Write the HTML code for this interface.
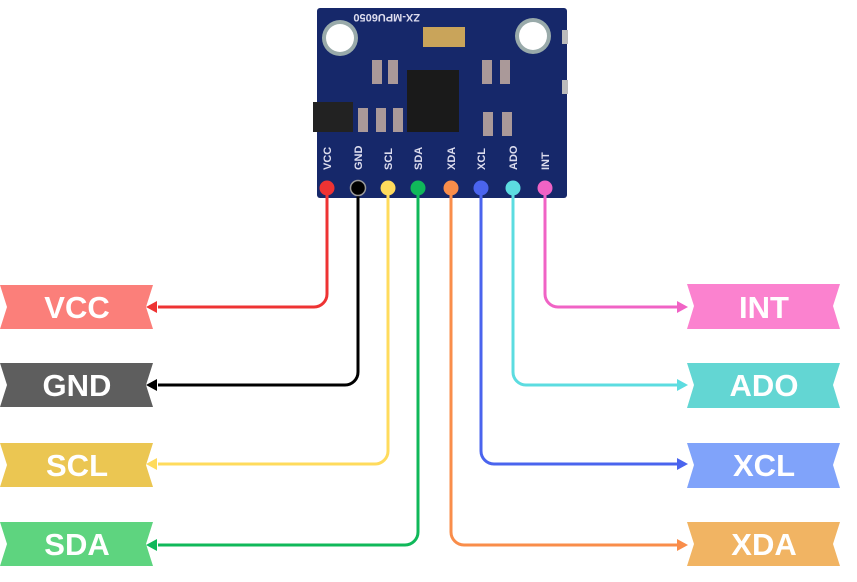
<!DOCTYPE html>
<html><head><meta charset="utf-8"><style>
html,body{margin:0;padding:0;background:#fff;width:857px;height:582px;overflow:hidden}
svg text{font-family:"Liberation Sans",sans-serif;font-weight:bold}
</style></head><body>
<svg width="857" height="582" viewBox="0 0 857 582" xmlns="http://www.w3.org/2000/svg">
<!-- board -->
<rect x="317" y="8" width="250" height="190" rx="3" fill="#16286a"/>
<rect x="562" y="30" width="6" height="14" fill="#bbb"/>
<rect x="562" y="80" width="6" height="14" fill="#bbb"/>
<circle cx="340" cy="38" r="18" fill="#9aa" /><circle cx="340" cy="38" r="14" fill="#fff"/>
<circle cx="533" cy="36" r="18" fill="#9aa" /><circle cx="533" cy="36" r="14" fill="#fff"/>
<text x="420" y="22" fill="#dde" font-size="11" font-weight="normal" transform="rotate(180 420 18)">ZX-MPU6050</text>
<rect x="423" y="27" width="42" height="20" fill="#c9a45a"/>
<rect x="407" y="70" width="52" height="62" fill="#1a1a1a"/>
<rect x="313" y="102" width="40" height="30" fill="#222"/>
<rect x="372" y="60" width="10" height="24" fill="#a99"/><rect x="388" y="60" width="10" height="24" fill="#a99"/>
<rect x="482" y="60" width="10" height="24" fill="#a99"/><rect x="500" y="60" width="10" height="24" fill="#a99"/>
<rect x="358" y="108" width="10" height="24" fill="#a99"/><rect x="376" y="108" width="10" height="24" fill="#a99"/><rect x="393" y="108" width="10" height="24" fill="#a99"/>
<rect x="483" y="112" width="10" height="24" fill="#a99"/><rect x="502" y="112" width="10" height="24" fill="#a99"/>
<g fill="#dde" font-size="11" font-weight="normal">
<text transform="translate(331,170) rotate(-90)">VCC</text>
<text transform="translate(362,170) rotate(-90)">GND</text>
<text transform="translate(392,170) rotate(-90)">SCL</text>
<text transform="translate(422,170) rotate(-90)">SDA</text>
<text transform="translate(455,170) rotate(-90)">XDA</text>
<text transform="translate(485,170) rotate(-90)">XCL</text>
<text transform="translate(517,170) rotate(-90)">ADO</text>
<text transform="translate(549,170) rotate(-90)">INT</text>
</g>
<g fill="none" stroke-width="3" stroke-linejoin="round">
<path d="M327 188 V294 a13 13 0 0 1 -13 13 H158" stroke="#ee3333"/>
<path d="M358 188 V372 a13 13 0 0 1 -13 13 H158" stroke="#000"/>
<path d="M388 188 V451 a13 13 0 0 1 -13 13 H158" stroke="#ffdb5c"/>
<path d="M418 188 V532 a13 13 0 0 1 -13 13 H158" stroke="#10b85a"/>
<path d="M451 188 V532 a13 13 0 0 0 13 13 H678" stroke="#f98d4a"/>
<path d="M481 188 V451 a13 13 0 0 0 13 13 H678" stroke="#4a64ee"/>
<path d="M513 188 V372 a13 13 0 0 0 13 13 H678" stroke="#5cdce0"/>
<path d="M545 188 V294 a13 13 0 0 0 13 13 H678" stroke="#f063c5"/>
</g>
<polygon points="146,307 157,301 157,313" fill="#ee3333"/>
<polygon points="146,385 157,379 157,391" fill="#000"/>
<polygon points="146,464 157,458 157,470" fill="#ffdb5c"/>
<polygon points="146,545 157,539 157,551" fill="#10b85a"/>
<polygon points="688,545 677,539 677,551" fill="#f98d4a"/>
<polygon points="688,464 677,458 677,470" fill="#4a64ee"/>
<polygon points="688,385 677,379 677,391" fill="#5cdce0"/>
<polygon points="688,307 677,301 677,313" fill="#f063c5"/>
<circle cx="327" cy="188" r="7.5" fill="#ee3333"/>
<circle cx="358" cy="188" r="7.5" fill="#000" stroke="#999" stroke-width="1.5"/>
<circle cx="388" cy="188" r="7.5" fill="#ffdb5c"/>
<circle cx="418" cy="188" r="7.5" fill="#10b85a"/>
<circle cx="451" cy="188" r="7.5" fill="#f98d4a"/>
<circle cx="481" cy="188" r="7.5" fill="#4a64ee"/>
<circle cx="513" cy="188" r="7.5" fill="#5cdce0"/>
<circle cx="545" cy="188" r="7.5" fill="#f063c5"/>
<!-- left banners -->
<g>
<polygon points="0,285 153,285 146,307 153,329 0,329 7,307" fill="#fb7f7a"/>
<polygon points="0,363 153,363 146,385 153,407 0,407 7,385" fill="#5e5e5e"/>
<polygon points="0,443 153,443 146,465 153,487 0,487 7,465" fill="#ebc652"/>
<polygon points="0,522 153,522 146,544 153,566 0,566 7,544" fill="#5ed47f"/>
<polygon points="687,284 840,284 833,306 840,329 687,329 694,306" fill="#fb82cf"/>
<polygon points="687,363 840,363 833,385 840,408 687,408 694,385" fill="#63d6d3"/>
<polygon points="687,443 840,443 833,465 840,488 687,488 694,465" fill="#80a3fa"/>
<polygon points="687,522 840,522 833,544 840,566 687,566 694,544" fill="#f1b463"/>
</g>
<g fill="#fff" font-size="31" text-anchor="middle">
<text x="77" y="318">VCC</text>
<text x="77" y="396">GND</text>
<text x="77" y="476">SCL</text>
<text x="77" y="555">SDA</text>
<text x="764" y="318">INT</text>
<text x="764" y="396">ADO</text>
<text x="764" y="476">XCL</text>
<text x="764" y="555">XDA</text>
</g>
</svg>
</body></html>
